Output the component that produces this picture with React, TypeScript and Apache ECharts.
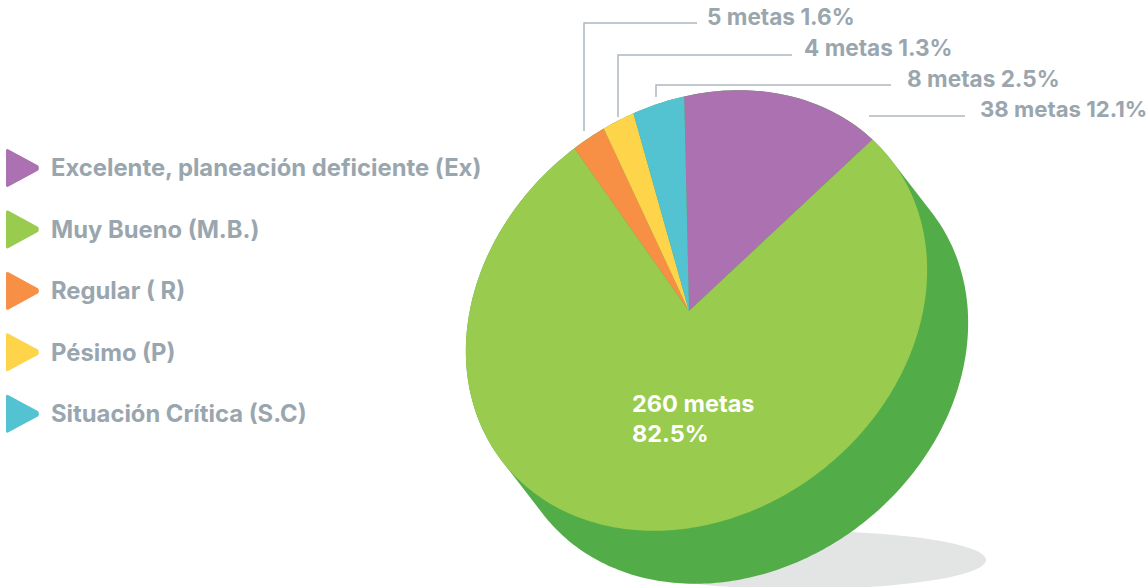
import React, { useEffect, useRef } from "react";
import * as echarts from "echarts";

const categories = [
  "Excelente, planeación deficiente (Ex)",
  "Muy Bueno (M.B.)",
  "Regular ( R)",
  "Pésimo (P)",
  "Situación Crítica (S.C)",
];
// Share of the circle each wedge occupies as drawn in the picture (%)
const drawnShare = [13.4, 77.2, 2.8, 2.6, 4.0];
const metas = [38, 260, 5, 4, 8];
const percent = ["12.1%", "82.5%", "1.6%", "1.3%", "2.5%"];
const colors = ["#ab71b0", "#98cb4e", "#f78f45", "#fed44b", "#53c3d1"];
const depthColor = "#52ac48";

const FONT = "Inter";
const GREY = "#9aa6ae";
const APEX = [689, 311];
const CENTER = [696.5, 310.5];
const SEMI = [246, 203];
const TILT = (-38 * Math.PI) / 180;
const DEPTH = [41, 53];
const START_DEG = -1.3;

const cosT = Math.cos(TILT);
const sinT = Math.sin(TILT);

function rim(deg: number): number[] {
  const r = (deg * Math.PI) / 180;
  const dx = Math.sin(r);
  const dy = -Math.cos(r);
  const ax = APEX[0] - CENTER[0];
  const ay = APEX[1] - CENTER[1];
  const px = (ax * cosT + ay * sinT) / SEMI[0];
  const py = (-ax * sinT + ay * cosT) / SEMI[1];
  const qx = (dx * cosT + dy * sinT) / SEMI[0];
  const qy = (-dx * sinT + dy * cosT) / SEMI[1];
  const A = qx * qx + qy * qy;
  const B = 2 * (px * qx + py * qy);
  const C = px * px + py * py - 1;
  const t = (-B + Math.sqrt(B * B - 4 * A * C)) / (2 * A);
  return [APEX[0] + dx * t, APEX[1] + dy * t];
}

function wedge(index: number): number[][] {
  let from = START_DEG;
  for (let i = 0; i < index; i++) from += drawnShare[i] * 3.6;
  const to = from + drawnShare[index] * 3.6;
  const pts = [APEX];
  const steps = Math.max(4, Math.ceil(to - from));
  for (let s = 0; s <= steps; s++) pts.push(rim(from + ((to - from) * s) / steps));
  return pts;
}

function depthHull(): number[][] {
  const pts: number[][] = [];
  for (let i = 0; i < 360; i++) {
    const t = (i * Math.PI) / 180;
    const u = SEMI[0] * Math.cos(t);
    const v = SEMI[1] * Math.sin(t);
    const x = CENTER[0] + u * cosT - v * sinT;
    const y = CENTER[1] + u * sinT + v * cosT;
    const nu = Math.cos(t) / SEMI[0];
    const nv = Math.sin(t) / SEMI[1];
    const nx = nu * cosT - nv * sinT;
    const ny = nu * sinT + nv * cosT;
    const out = nx * DEPTH[0] + ny * DEPTH[1] > 0;
    pts.push(out ? [x + DEPTH[0], y + DEPTH[1]] : [x, y]);
  }
  return pts;
}

const TRI = "path://M2,0.6 L31.5,16.6 Q33,19 31.5,21.4 L2,37.4 Q0,38 0,36 L0,2 Q0,0 2,0.6 Z";

export default function App() {
  const ref = useRef<HTMLDivElement>(null);
  useEffect(() => {
    if (!ref.current) return;
    const chart = echarts.init(ref.current, undefined, { renderer: "svg" });
    const label = (i: number) => `${metas[i]} metas ${percent[i]}`;
    const leader = (points: number[][]) => ({
      type: "polyline",
      z: 5,
      shape: { points },
      style: { stroke: "#aeb8bf", lineWidth: 1.5, fill: "none" },
    });
    const outer = (i: number, x: number, y: number, size: number) => ({
      type: "text",
      z: 5,
      x,
      y,
      style: {
        text: label(i),
        fill: GREY,
        font: `bold ${size}px ${FONT}`,
        textVerticalAlign: "middle",
      },
    });
    chart.setOption({
      animation: false,
      backgroundColor: "#ffffff",
      legend: {
        data: categories,
        orient: "vertical",
        left: 1,
        top: 144,
        itemWidth: 33,
        itemHeight: 38,
        itemGap: 23.5,
        icon: TRI,
        selectedMode: false,
        textStyle: {
          color: GREY,
          fontFamily: FONT,
          fontWeight: "bold",
          fontSize: 23.8,
          padding: [0, 0, 0, 7],
        },
      },
      graphic: [
        {
          type: "ellipse",
          z: 0,
          shape: { cx: 800, cy: 560, rx: 186, ry: 29 },
          style: { fill: "#e3e5e4" },
        },
        leader([[584, 131], [584, 23], [697, 23]]),
        leader([[618, 117], [618, 55], [792, 55]]),
        leader([[656, 97], [656, 85], [891, 85]]),
        leader([[869, 116], [965, 116]]),
        outer(2, 707, 16, 22.6),
        outer(3, 804, 47, 22.6),
        outer(4, 907, 78, 22.6),
        outer(0, 980, 108, 22.2),
        {
          type: "text",
          z: 5,
          x: 632,
          y: 388,
          style: {
            text: `${metas[1]} metas\n${percent[1]}`,
            fill: "#ffffff",
            font: `bold 23.5px ${FONT}`,
            lineHeight: 30,
          },
        },
      ],
      series: [
        {
          type: "custom",
          name: "Profundidad",
          coordinateSystem: "none",
          silent: true,
          z: 1,
          data: [[0]],
          renderItem: () => ({
            type: "polygon",
            shape: { points: depthHull() },
            style: { fill: depthColor },
          }),
        },
        ...categories.map((name, i) => ({
          type: "custom",
          name,
          coordinateSystem: "none",
          silent: true,
          z: 2,
          itemStyle: { color: colors[i] },
          data: [[drawnShare[i]]],
          renderItem: () => ({
            type: "polygon",
            shape: { points: wedge(i) },
            style: { fill: colors[i] },
          }),
        })),
      ],
    });
    return () => chart.dispose();
  }, []);
  return (
    <div
      ref={ref}
      style={{ position: "absolute", left: 0, top: 0, width: 1146, height: 587 }}
    />
  );
}
